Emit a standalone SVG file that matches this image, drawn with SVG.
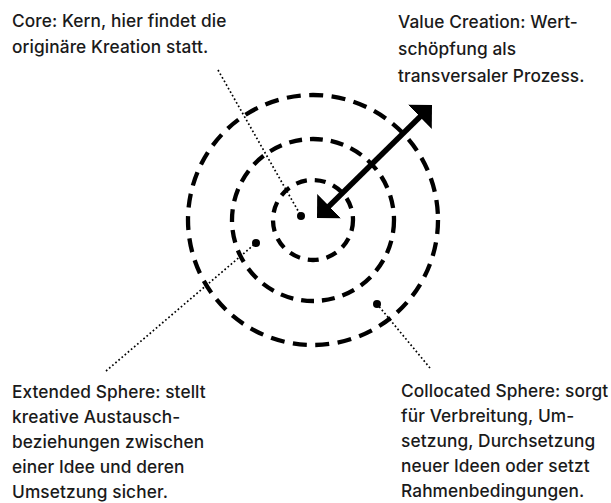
<svg xmlns="http://www.w3.org/2000/svg" width="611" height="503" viewBox="0 0 611 503">
<style>
.t{font-family:Inter,"Liberation Sans",sans-serif;font-size:17.3px;font-weight:500;fill:#1a1a1a;letter-spacing:0.1px}
.ring{fill:none;stroke:#000;stroke-width:4.3}
.dot{fill:#000}
.lead{fill:none;stroke:#000;stroke-width:1.7;stroke-dasharray:1.7 2.4}
</style>
<defs>
<marker id="ah" viewBox="0 -17 17 34" refX="2" refY="0" markerWidth="17" markerHeight="34" orient="auto-start-reverse" markerUnits="userSpaceOnUse">
<path d="M0,-17 L17,0 L0,17 Z" fill="#000"/>
</marker>
</defs>
<rect width="611" height="503" fill="#fff"/>
<g id="rings">
<circle id="core-ring" class="ring" cx="313" cy="220" r="40" stroke-dasharray="11 8"/>
<circle id="extended-ring" class="ring" cx="313" cy="220" r="81" stroke-dasharray="13 8"/>
<circle id="collocated-ring" class="ring" cx="313" cy="220" r="125" stroke-dasharray="14 8.5"/>
</g>
<g id="connectors">
<line class="lead" x1="218" y1="70" x2="301" y2="216"/>
<line class="lead" x1="106" y1="371" x2="256" y2="243"/>
<line class="lead" x1="430" y1="368" x2="377" y2="304"/>
<line x1="327.7" y1="207.5" x2="421.3" y2="115.5" stroke="#000" stroke-width="5.5" marker-start="url(#ah)" marker-end="url(#ah)"/>
</g>
<g id="core">
<circle class="dot" cx="301" cy="216" r="4"/>
<text class="t" x="12" y="27">Core: Kern, hier findet die</text>
<text class="t" x="12" y="53">originäre Kreation statt.</text>
</g>
<g id="value-creation">
<text class="t" x="398" y="28">Value Creation: Wert-</text>
<text class="t" x="398" y="55">schöpfung als</text>
<text class="t" x="398" y="82">transversaler Prozess.</text>
</g>
<g id="extended">
<circle class="dot" cx="256" cy="243" r="4"/>
<text class="t" x="12" y="398">Extended Sphere: stellt</text>
<text class="t" x="12" y="423">kreative Austausch-</text>
<text class="t" x="12" y="448">beziehungen zwischen</text>
<text class="t" x="12" y="473">einer Idee und deren</text>
<text class="t" x="12" y="498">Umsetzung sicher.</text>
</g>
<g id="collocated">
<circle class="dot" cx="377" cy="304" r="4"/>
<text class="t" x="401" y="397">Collocated Sphere: sorgt</text>
<text class="t" x="401" y="422">für Verbreitung, Um-</text>
<text class="t" x="401" y="447">setzung, Durchsetzung</text>
<text class="t" x="401" y="472">neuer Ideen oder setzt</text>
<text class="t" x="401" y="497">Rahmenbedingungen.</text>
</g>
</svg>
